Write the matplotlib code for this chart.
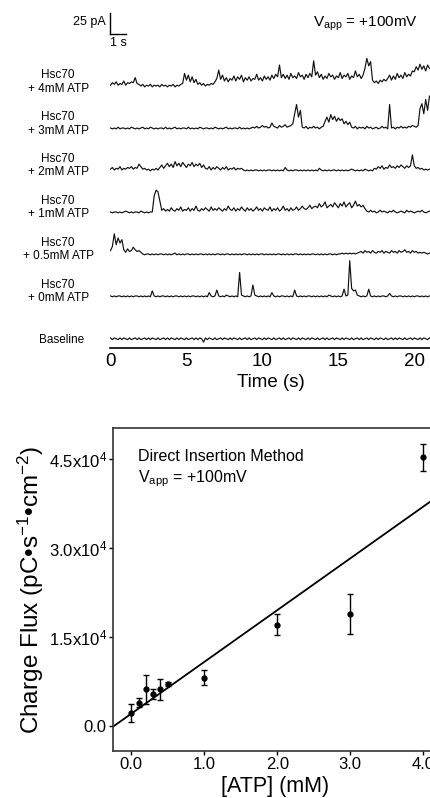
import numpy as np
import matplotlib
matplotlib.use("Agg")
import matplotlib.pyplot as plt

plt.rcParams['font.family'] = ['Liberation Sans', 'DejaVu Sans']
plt.rcParams['mathtext.fontset'] = 'custom'
plt.rcParams['mathtext.rm'] = 'Liberation Sans'
plt.rcParams['mathtext.it'] = 'Liberation Sans'

## current traces (pA above each trace's own zero), sampled every 0.125 s
DT = 0.125
trace_4mM = [2, 5, 3, 6, 2, 4, 3, 7, 2, 5, 4, 6,
             5, 11, 4, 3,
             1, 3, 0, 2, 1, 3, 0, 2, 1, 2, 0, 3, 1, 2, 0, 2, 1, 3, 0, 2, 1, 3,
             4, 16, 8, 14, 6, 12, 5, 9,
             3, 5, 2, 4, 1, 3, 2, 4, 3, 6,
             10, 20, 9, 14,
             7, 11, 6, 10, 8, 13, 7, 12, 9, 14, 6, 11, 8, 12, 7, 10, 9, 15, 8, 11,
             7, 13, 9, 12, 8, 14, 10, 15,
             12, 26, 11, 15,
             10, 14, 9, 16, 11, 13, 10, 17, 12, 14, 9, 15, 11, 16, 12,
             31, 14, 18,
             11, 15, 9, 13, 10, 16, 12, 14, 9, 13, 11, 17, 10, 14, 12, 16, 9, 13,
             11, 19, 12, 15, 10, 14,
             22, 34, 25, 30,
             8, 5, 7, 4, 8, 6, 9, 7,
             10, 14, 8, 13, 9, 16, 11, 14, 10, 17, 12, 15, 13, 19,
             18, 24, 20, 27, 21, 25, 19, 26, 22]
trace_3mM = [1, 0, 1, 0, 2, 0, 1, 1, 0, 1, 0, 2, 1, 0, 1, 0, 1, 2, 0,
             1, 0, 2, 1, 0, 1, 0, 1, 1, 0, 2, 0, 1, 0, 1, 2, 0, 1, 0,
             1, 1, 0, 2, 0, 1, 0, 1, 0, 2, 1, 0, 1, 1, 0, 1, 0, 2, 1,
             0, 1, 0, 1, 2, 0, 1, 0, 1, 1, 0, 2, 0, 1, 0, 1, 0, 1, 2,
             1, 3, 1, 2, 4, 2, 3, 1, 2, 7, 3, 2, 1, 4, 2, 3, 5, 2, 3, 4, 6,
             18, 29, 14, 22,
             2, 1, 3, 0, 2, 1, 3, 1, 2, 0, 2, 3,
             9, 14, 8, 17, 11, 15, 9, 13, 10, 12, 6, 9, 5, 8,
             2, 1, 3, 0, 2, 1, 2, 0, 3, 1, 2, 0, 1, 2, 0, 1, 3, 1, 2, 0,
             29,
             1, 2, 0, 2, 1, 3, 1, 2, 1, 3, 2, 4, 3, 2, 4,
             24, 30, 18, 35, 22, 39]
trace_2mM = [2, 4, 1, 3, 2, 5, 1, 3, 2, 4, 3, 5, 2, 4, 3,
             8, 5,
             2, 3, 1, 2, 0, 2, 1, 3, 1,
             4, 7, 3, 6, 9, 5, 8, 4, 11, 6, 9, 5, 10, 7, 4, 8, 6, 10, 5, 8, 6, 9, 4, 7, 3,
             2, 5, 1, 4, 2, 5, 3, 1, 4, 2, 5, 1, 3, 2, 4, 1, 3, 2, 3,
             1, 0, 1, 0, 1, 0, 1, 1, 0, 1, 0, 1, 0, 1, 1, 0, 1, 0, 1, 0, 1, 0, 4, 1,
             0, 1, 0, 1, 1, 0, 1, 0, 1, 0, 1, 0, 1, 0, 1, 0, 3, 1,
             0, 1, 0, 1, 0, 1, 1, 0, 1, 0, 1, 0, 1, 0, 1, 2, 1, 0, 1, 0, 1, 0, 2, 1, 0, 1, 0,
             3, 2, 5, 3, 6, 2, 4, 3, 7, 4, 5, 3, 6, 4, 7, 5, 3, 6, 4, 6,
             19,
             6, 3, 4, 2, 3, 1, 2, 1, 2]
trace_1mM = [1, 0, 1, 1, 0, 1, 0, 1, 2, 1, 0, 1, 0, 1, 1, 0, 2, 1, 0, 1, 0, 1, 1,
             20, 27, 25, 14,
             3, 5, 2, 4, 2, 6, 3, 2, 5, 3, 7, 2, 4, 3, 6, 2, 5, 3, 8, 3,
             2, 5, 3, 6, 4, 2, 7, 3, 5, 3, 6, 4, 2, 5, 3, 8, 4, 3, 6, 2,
             5, 3, 7, 4, 2, 6, 3, 5, 2, 4, 7, 3, 5, 2, 6, 4, 3, 7, 2, 5,
             3, 6, 2, 4, 8, 3, 5, 2, 6, 3, 4, 7, 3, 5,
             8, 5, 4, 6, 9, 5, 7, 8, 6, 11, 7, 9, 13, 6, 8, 10, 7, 12, 9, 6,
             11, 8, 13, 7, 10, 12, 6, 9, 14, 8, 10, 7, 9, 5,
             2, 1, 3, 1, 2, 0, 1, 3, 1, 2, 1, 0, 2, 1, 3, 1, 0, 1, 2, 1,
             0, 3, 1, 2, 1, 0, 1, 2, 1, 3, 1, 0, 1, 2]
trace_05mM = [5, 10, 25, 12, 20, 14, 18,
              6, 3, 7, 4, 5, 9, 6, 4, 5, 3,
              1, 0, 1, 1, 0, 1, 0, 1, 0, 1, 1, 0, 1, 0, 1, 0, 1, 2, 0, 1,
              0, 1, 0, 1, 1, 0, 1, 0, 1, 0, 1, 1, 0, 1, 0, 1, 0, 1, 0, 1,
              1, 0, 1, 0, 1, 1, 0, 1, 0, 1, 0, 1, 0, 1, 1, 0, 1, 0, 1, 0,
              1, 0, 1, 1, 0, 1, 0, 1, 0, 1, 0, 1, 1, 0, 1, 0, 1, 0, 1, 0,
              1, 1, 0, 1, 0, 1, 0, 1, 0, 1, 1, 0, 1, 0, 1, 0, 1, 0, 1, 1,
              0, 1, 0, 1,
              1, 2, 1, 2, 1, 2, 1, 2, 1, 2,
              3, 4, 2, 5, 3, 4, 2, 5, 3, 2, 4, 3, 5, 2, 4, 3, 2, 5, 3, 4,
              2, 5, 3, 4, 6, 3, 4, 2, 5, 3, 4, 2, 3, 2, 3, 2, 1, 2]
trace_0mM = [1, 0, 1, 0, 1, 1, 0, 1, 0, 1, 0, 1, 0, 1, 1, 0, 1, 0, 1, 0,
             1, 0, 7, 1, 0, 1, 0, 1, 1, 0, 1, 0, 1, 0, 1, 1, 0, 1, 0, 1,
             0, 1, 0, 1, 1, 0, 1, 0, 1, 0, 1, 0, 5, 1, 0, 1, 8, 1, 0, 1,
             0, 2, 1, 0, 1, 0, 1, 0, 29, 2, 1, 0, 1, 0, 1, 14, 2, 1, 0, 1,
             0, 1, 0, 1, 0, 5, 1, 0, 1, 0, 1, 1, 0, 1, 0, 1, 0, 8, 1, 0,
             1, 0, 1, 0, 1, 1, 0, 1, 0, 1, 0, 1, 0, 1, 0, 2, 1, 0, 1, 0,
             1, 0, 1, 9, 1, 2, 43, 10, 7, 8, 2, 1, 0, 1, 0, 1, 9, 1, 0, 1,
             0, 1, 0, 1, 1, 0, 1, 4, 1, 0, 1, 0, 1, 1, 0, 1, 0, 1, 0, 1,
             0, 1, 1, 0, 1, 0, 1, 0, 1]
trace_base = [1, -1, 1, 0, -1, 1, -1, 1, 0, -1, 1, -1, 0, 1, -1, 1, -1, 0, 1, -1,
              1, -1, 1, 0, -1, 1, -1, 0, 1, -1, 1, -1, 1, 0, -1, 1, -1, 1, 0, -1,
              1, -1, 0, 1, -1, 1, -1, 1, 0, -4, 1, -1, 1, 0, -1, 1, -1, 0, 1, -1,
              1, 0, -1, 1, -1, 1, 0, -1, 1, -1, 0, 1, -1, 1, -1, 0, 1, -1, 1, 0,
              -1, 1, -1, 1, 0, -1, 1, -1, 0, 1, -1, 1, -1, 0, 1, -1, 1, 0, -1, 1,
              -1, 1, 0, -1, 1, -1, 1, 0, -1, 1, -1, 0, 1, -1, 1, -1, 0, 1, -1, 1,
              0, -1, 1, -1, 1, 0, -1, 1, -1, 0, 1, -1, 1, -1, 0, 1, -1, 1, 0, -1,
              1, -1, 1, 0, -1, 1, -1, 0, 1, -1, 1, -1, 1, 0, -1, 1, -1, 0, 1, -1,
              1, 0, -1, 1, -1, 1, 0, -1, 1]

traces = [trace_4mM, trace_3mM, trace_2mM, trace_1mM, trace_05mM, trace_0mM, trace_base]
offsets = [300, 250, 200, 150, 100, 50, 0]
trace_labels = ["Hsc70\n+ 4mM ATP", "Hsc70\n+ 3mM ATP", "Hsc70\n+ 2mM ATP",
                "Hsc70\n+ 1mM ATP", "Hsc70\n+ 0.5mM ATP", "Hsc70\n+ 0mM ATP",
                "Baseline"]

## charge flux vs ATP
atp = [0.0, 0.1, 0.2, 0.3, 0.4, 0.5, 1.0, 2.0, 3.0, 4.0]
flux = [2140, 3930, 6180, 5390, 6180, 7080, 8140, 17070, 18880, 45280]
flux_err = [1500, 800, 2500, 900, 1800, 400, 1250, 1800, 3400, 2300]
fit_slope = 8720
fit_intercept = 2080

W, H = 431, 798
fig = plt.figure(figsize=(W / 100, H / 100), dpi=100)

# ---------- top panel: traces ----------
ax1 = fig.add_axes([110.5 / W, (H - 348) / H, (W - 110.5) / W, 335 / H])
for tr, off in zip(traces, offsets):
    t = np.arange(len(tr)) * DT
    ax1.plot(t, np.array(tr) + off, color='#111111', lw=0.85)
ax1.set_xlim(0, 21.1)
ax1.set_ylim(-11, 388)
for s in ['top', 'right', 'left']:
    ax1.spines[s].set_visible(False)
ax1.spines['bottom'].set_linewidth(1.2)
ax1.set_yticks([])
ax1.set_xticks([0, 5, 10, 15, 20])
ax1.tick_params(axis='x', length=0, pad=3.5, labelsize=13.5)
ax1.set_xlabel("Time (s)", fontsize=13.5, labelpad=3)

for lab, off in zip(trace_labels, offsets):
    if "\n" in lab:
        ax1.text(-3.45, off + 6, lab, ha='center', va='center', fontsize=8.5,
                 linespacing=1.15, clip_on=False)
    else:
        ax1.text(-3.2, off - 2, lab, ha='center', va='center', fontsize=8.5,
                 clip_on=False)

# scale bar
ax1.plot([0, 0], [363, 388], color='black', lw=1, clip_on=False)
ax1.plot([0, 1], [363, 363], color='black', lw=1, clip_on=False)
ax1.text(-0.3, 377, "25 pA", ha='right', va='center', fontsize=9, clip_on=False)
ax1.text(0.5, 352, "1 s", ha='center', va='center', fontsize=9, clip_on=False)

fig.text(313 / W, (H - 27) / H, r"V$_{\mathrm{app}}$ = +100mV", fontsize=11,
         ha='left', va='baseline')

# ---------- bottom panel: charge flux ----------
ax2 = fig.add_axes([113 / W, (H - 751) / H, 4.45 * 73 / W, 323 / H])
ax2.set_xlim(-0.25, 4.2)
ax2.set_ylim(-4200, 50200)
xs = np.array([-0.25, 4.2])
ax2.plot(xs, fit_intercept + fit_slope * xs, color='black', lw=1.3)
ax2.errorbar(atp, flux, yerr=flux_err, fmt='o', color='black', ms=3.5,
             capsize=2, elinewidth=1, capthick=1)
ax2.set_xticks([0, 1, 2, 3, 4])
ax2.set_xticklabels(["0.0", "1.0", "2.0", "3.0", "4.0"])
ax2.set_yticks([0, 15000, 30000, 45000])
ax2.set_yticklabels(["0.0", r"1.5x10$^{4}$", r"3.0x10$^{4}$", r"4.5x10$^{4}$"])
ax2.tick_params(direction='out', length=3, width=1, labelsize=12, pad=1.5)
for s in ['top', 'left', 'bottom', 'right']:
    ax2.spines[s].set_linewidth(1.2)
    ax2.spines[s].set_color('#333333')
ax2.set_xlabel("[ATP] (mM)", fontsize=15.5, labelpad=3)
ax2.set_ylabel(r"Charge Flux (pC•s$^{-1}$•cm$^{-2}$)", fontsize=17.5, labelpad=2)

ax2.text(138 / W, (H - 461) / H, "Direct Insertion Method", transform=fig.transFigure,
         fontsize=11.5, ha='left', va='baseline')
ax2.text(138 / W, (H - 482) / H, r"V$_{\mathrm{app}}$ = +100mV", transform=fig.transFigure,
         fontsize=11.5, ha='left', va='baseline')

plt.savefig("out.png", dpi=100)
plt.close()
